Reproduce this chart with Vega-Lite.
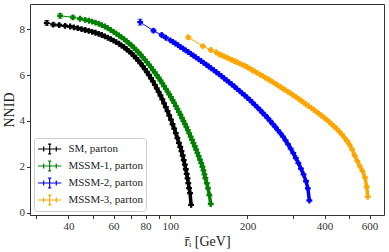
{
"$schema": "https://vega.github.io/schema/vega-lite/v6.json",
"width": 354, "height": 211,
"autosize": {"type": "none"},
"padding": {"left": 30, "top": 4, "right": 5, "bottom": 37},
"config": {"font": "Liberation Serif", "view": {"stroke": "#333", "strokeWidth": 1}},
"data": {"values": [
{"s":"SM, parton","x":32.9,"y":8.27,"e":0.10},{"s":"SM, parton","x":34.9,"y":8.19,"e":0.07},{"s":"SM, parton","x":36.8,"y":8.17,"e":0.06},{"s":"SM, parton","x":38.8,"y":8.14,"e":0.05},{"s":"SM, parton","x":40.6,"y":8.11,"e":0.04},
{"s":"SM, parton","x":42.0,"y":8.07},{"s":"SM, parton","x":43.5,"y":8.04},{"s":"SM, parton","x":45.0,"y":8.00},{"s":"SM, parton","x":46.5,"y":7.96},{"s":"SM, parton","x":48.0,"y":7.92},{"s":"SM, parton","x":49.5,"y":7.88},{"s":"SM, parton","x":51.0,"y":7.84},{"s":"SM, parton","x":52.5,"y":7.79},{"s":"SM, parton","x":54.0,"y":7.74},{"s":"SM, parton","x":55.5,"y":7.68},{"s":"SM, parton","x":57.0,"y":7.62},{"s":"SM, parton","x":58.5,"y":7.56},{"s":"SM, parton","x":60.0,"y":7.50},{"s":"SM, parton","x":61.5,"y":7.43},{"s":"SM, parton","x":63.0,"y":7.36},{"s":"SM, parton","x":64.5,"y":7.28},{"s":"SM, parton","x":66.0,"y":7.21},{"s":"SM, parton","x":67.5,"y":7.12},{"s":"SM, parton","x":69.0,"y":7.03},{"s":"SM, parton","x":70.5,"y":6.94},{"s":"SM, parton","x":72.0,"y":6.84},{"s":"SM, parton","x":73.5,"y":6.73},{"s":"SM, parton","x":75.0,"y":6.62},{"s":"SM, parton","x":76.5,"y":6.51},{"s":"SM, parton","x":78.0,"y":6.39},{"s":"SM, parton","x":79.5,"y":6.26},{"s":"SM, parton","x":81.0,"y":6.13},{"s":"SM, parton","x":82.5,"y":6.00},{"s":"SM, parton","x":84.0,"y":5.86},{"s":"SM, parton","x":85.5,"y":5.72},{"s":"SM, parton","x":87.0,"y":5.57},{"s":"SM, parton","x":88.5,"y":5.42},{"s":"SM, parton","x":90.0,"y":5.27},{"s":"SM, parton","x":91.5,"y":5.11},{"s":"SM, parton","x":93.0,"y":4.94},{"s":"SM, parton","x":94.5,"y":4.77},{"s":"SM, parton","x":96.0,"y":4.60},{"s":"SM, parton","x":97.5,"y":4.43},{"s":"SM, parton","x":99.0,"y":4.24},{"s":"SM, parton","x":100.5,"y":4.06},{"s":"SM, parton","x":102.0,"y":3.86},{"s":"SM, parton","x":103.5,"y":3.67},{"s":"SM, parton","x":105.0,"y":3.47},{"s":"SM, parton","x":106.5,"y":3.26},{"s":"SM, parton","x":108.0,"y":3.05},{"s":"SM, parton","x":109.3,"y":2.87},{"s":"SM, parton","x":110.5,"y":2.69},{"s":"SM, parton","x":111.7,"y":2.50},{"s":"SM, parton","x":112.8,"y":2.30},{"s":"SM, parton","x":113.9,"y":2.10},{"s":"SM, parton","x":114.9,"y":1.90},{"s":"SM, parton","x":115.8,"y":1.70},{"s":"SM, parton","x":116.7,"y":1.50},{"s":"SM, parton","x":117.5,"y":1.30},{"s":"SM, parton","x":118.3,"y":1.08},{"s":"SM, parton","x":119.4,"y":0.86},{"s":"SM, parton","x":120.5,"y":0.35},
{"s":"MSSM-1, parton","x":37.1,"y":8.58,"e":0.10},{"s":"MSSM-1, parton","x":41.6,"y":8.51,"e":0.07},{"s":"MSSM-1, parton","x":44.4,"y":8.45,"e":0.06},{"s":"MSSM-1, parton","x":46.5,"y":8.40,"e":0.05},{"s":"MSSM-1, parton","x":48.1,"y":8.36,"e":0.04},
{"s":"MSSM-1, parton","x":49.5,"y":8.32},{"s":"MSSM-1, parton","x":51.0,"y":8.28},{"s":"MSSM-1, parton","x":52.5,"y":8.23},{"s":"MSSM-1, parton","x":54.0,"y":8.17},{"s":"MSSM-1, parton","x":55.5,"y":8.11},{"s":"MSSM-1, parton","x":57.0,"y":8.04},{"s":"MSSM-1, parton","x":58.5,"y":7.96},{"s":"MSSM-1, parton","x":60.0,"y":7.88},{"s":"MSSM-1, parton","x":61.5,"y":7.80},{"s":"MSSM-1, parton","x":63.0,"y":7.72},{"s":"MSSM-1, parton","x":64.5,"y":7.64},{"s":"MSSM-1, parton","x":66.0,"y":7.56},{"s":"MSSM-1, parton","x":67.5,"y":7.47},{"s":"MSSM-1, parton","x":69.0,"y":7.38},{"s":"MSSM-1, parton","x":70.5,"y":7.29},{"s":"MSSM-1, parton","x":72.0,"y":7.19},{"s":"MSSM-1, parton","x":73.5,"y":7.09},{"s":"MSSM-1, parton","x":75.0,"y":6.99},{"s":"MSSM-1, parton","x":76.5,"y":6.89},{"s":"MSSM-1, parton","x":78.0,"y":6.78},{"s":"MSSM-1, parton","x":79.5,"y":6.67},{"s":"MSSM-1, parton","x":81.0,"y":6.56},{"s":"MSSM-1, parton","x":82.5,"y":6.45},{"s":"MSSM-1, parton","x":84.0,"y":6.34},{"s":"MSSM-1, parton","x":85.5,"y":6.22},{"s":"MSSM-1, parton","x":87.0,"y":6.11},{"s":"MSSM-1, parton","x":88.5,"y":5.99},{"s":"MSSM-1, parton","x":90.0,"y":5.88},{"s":"MSSM-1, parton","x":91.5,"y":5.76},{"s":"MSSM-1, parton","x":93.0,"y":5.64},{"s":"MSSM-1, parton","x":94.5,"y":5.52},{"s":"MSSM-1, parton","x":96.0,"y":5.40},{"s":"MSSM-1, parton","x":97.5,"y":5.28},{"s":"MSSM-1, parton","x":99.0,"y":5.16},{"s":"MSSM-1, parton","x":100.5,"y":5.04},{"s":"MSSM-1, parton","x":102.0,"y":4.91},{"s":"MSSM-1, parton","x":103.5,"y":4.79},{"s":"MSSM-1, parton","x":105.0,"y":4.66},{"s":"MSSM-1, parton","x":106.5,"y":4.53},{"s":"MSSM-1, parton","x":108.0,"y":4.40},{"s":"MSSM-1, parton","x":109.5,"y":4.27},{"s":"MSSM-1, parton","x":111.0,"y":4.13},{"s":"MSSM-1, parton","x":112.5,"y":4.00},{"s":"MSSM-1, parton","x":114.0,"y":3.87},{"s":"MSSM-1, parton","x":115.5,"y":3.73},{"s":"MSSM-1, parton","x":117.0,"y":3.60},{"s":"MSSM-1, parton","x":118.5,"y":3.46},{"s":"MSSM-1, parton","x":120.0,"y":3.32},{"s":"MSSM-1, parton","x":121.5,"y":3.18},{"s":"MSSM-1, parton","x":123.0,"y":3.04},{"s":"MSSM-1, parton","x":124.5,"y":2.90},{"s":"MSSM-1, parton","x":126.0,"y":2.76},{"s":"MSSM-1, parton","x":127.5,"y":2.61},{"s":"MSSM-1, parton","x":129.0,"y":2.47},{"s":"MSSM-1, parton","x":130.5,"y":2.32},{"s":"MSSM-1, parton","x":132.0,"y":2.17},{"s":"MSSM-1, parton","x":133.4,"y":2.01},{"s":"MSSM-1, parton","x":134.7,"y":1.85},{"s":"MSSM-1, parton","x":135.9,"y":1.68},{"s":"MSSM-1, parton","x":137.0,"y":1.51},{"s":"MSSM-1, parton","x":138.8,"y":1.29},{"s":"MSSM-1, parton","x":140.3,"y":1.07},{"s":"MSSM-1, parton","x":142.0,"y":0.78},{"s":"MSSM-1, parton","x":143.8,"y":0.39},
{"s":"MSSM-2, parton","x":76.2,"y":8.30,"e":0.13},{"s":"MSSM-2, parton","x":85.9,"y":7.93,"e":0.07},{"s":"MSSM-2, parton","x":92.5,"y":7.74,"e":0.05},{"s":"MSSM-2, parton","x":96.0,"y":7.62,"e":0.04},
{"s":"MSSM-2, parton","x":100.0,"y":7.51},{"s":"MSSM-2, parton","x":102.3,"y":7.44},{"s":"MSSM-2, parton","x":104.7,"y":7.37},{"s":"MSSM-2, parton","x":107.2,"y":7.30},{"s":"MSSM-2, parton","x":109.6,"y":7.22},{"s":"MSSM-2, parton","x":112.2,"y":7.15},{"s":"MSSM-2, parton","x":114.8,"y":7.07},{"s":"MSSM-2, parton","x":117.5,"y":7.00},{"s":"MSSM-2, parton","x":120.2,"y":6.92},{"s":"MSSM-2, parton","x":123.0,"y":6.85},{"s":"MSSM-2, parton","x":125.9,"y":6.77},{"s":"MSSM-2, parton","x":128.8,"y":6.69},{"s":"MSSM-2, parton","x":131.8,"y":6.61},{"s":"MSSM-2, parton","x":134.9,"y":6.53},{"s":"MSSM-2, parton","x":138.0,"y":6.45},{"s":"MSSM-2, parton","x":141.3,"y":6.37},{"s":"MSSM-2, parton","x":144.5,"y":6.29},{"s":"MSSM-2, parton","x":147.9,"y":6.21},{"s":"MSSM-2, parton","x":151.4,"y":6.12},{"s":"MSSM-2, parton","x":154.9,"y":6.04},{"s":"MSSM-2, parton","x":158.5,"y":5.95},{"s":"MSSM-2, parton","x":162.2,"y":5.86},{"s":"MSSM-2, parton","x":166.0,"y":5.77},{"s":"MSSM-2, parton","x":169.8,"y":5.68},{"s":"MSSM-2, parton","x":173.8,"y":5.59},{"s":"MSSM-2, parton","x":177.8,"y":5.50},{"s":"MSSM-2, parton","x":182.0,"y":5.40},{"s":"MSSM-2, parton","x":186.2,"y":5.31},{"s":"MSSM-2, parton","x":190.5,"y":5.21},{"s":"MSSM-2, parton","x":195.0,"y":5.12},{"s":"MSSM-2, parton","x":199.5,"y":5.02},{"s":"MSSM-2, parton","x":204.2,"y":4.92},{"s":"MSSM-2, parton","x":208.9,"y":4.81},{"s":"MSSM-2, parton","x":213.8,"y":4.70},{"s":"MSSM-2, parton","x":218.8,"y":4.59},{"s":"MSSM-2, parton","x":223.9,"y":4.48},{"s":"MSSM-2, parton","x":229.1,"y":4.36},{"s":"MSSM-2, parton","x":234.4,"y":4.25},{"s":"MSSM-2, parton","x":239.9,"y":4.13},{"s":"MSSM-2, parton","x":245.5,"y":4.00},{"s":"MSSM-2, parton","x":251.2,"y":3.87},{"s":"MSSM-2, parton","x":257.0,"y":3.74},{"s":"MSSM-2, parton","x":263.0,"y":3.60},{"s":"MSSM-2, parton","x":269.2,"y":3.46},{"s":"MSSM-2, parton","x":275.4,"y":3.32},{"s":"MSSM-2, parton","x":281.8,"y":3.16},{"s":"MSSM-2, parton","x":288.4,"y":2.98},{"s":"MSSM-2, parton","x":295.1,"y":2.80},{"s":"MSSM-2, parton","x":302.0,"y":2.60},{"s":"MSSM-2, parton","x":309.0,"y":2.39},{"s":"MSSM-2, parton","x":316.2,"y":2.17},{"s":"MSSM-2, parton","x":323.6,"y":1.93},{"s":"MSSM-2, parton","x":331.1,"y":1.68},{"s":"MSSM-2, parton","x":338.8,"y":1.38},{"s":"MSSM-2, parton","x":344.4,"y":1.07},{"s":"MSSM-2, parton","x":349.1,"y":0.54},
{"s":"MSSM-3, parton","x":117.5,"y":7.64,"e":0.08},{"s":"MSSM-3, parton","x":133.9,"y":7.26,"e":0.05},{"s":"MSSM-3, parton","x":143.8,"y":7.09,"e":0.04},{"s":"MSSM-3, parton","x":151.0,"y":6.99,"e":0.03},{"s":"MSSM-3, parton","x":155.3,"y":6.90},
{"s":"MSSM-3, parton","x":158.5,"y":6.86},{"s":"MSSM-3, parton","x":162.2,"y":6.81},{"s":"MSSM-3, parton","x":166.0,"y":6.76},{"s":"MSSM-3, parton","x":169.8,"y":6.71},{"s":"MSSM-3, parton","x":173.8,"y":6.66},{"s":"MSSM-3, parton","x":177.8,"y":6.61},{"s":"MSSM-3, parton","x":182.0,"y":6.56},{"s":"MSSM-3, parton","x":186.2,"y":6.51},{"s":"MSSM-3, parton","x":190.5,"y":6.45},{"s":"MSSM-3, parton","x":195.0,"y":6.40},{"s":"MSSM-3, parton","x":199.5,"y":6.35},{"s":"MSSM-3, parton","x":204.2,"y":6.28},{"s":"MSSM-3, parton","x":208.9,"y":6.22},{"s":"MSSM-3, parton","x":213.8,"y":6.15},{"s":"MSSM-3, parton","x":218.8,"y":6.09},{"s":"MSSM-3, parton","x":223.9,"y":6.02},{"s":"MSSM-3, parton","x":229.1,"y":5.96},{"s":"MSSM-3, parton","x":234.4,"y":5.89},{"s":"MSSM-3, parton","x":239.9,"y":5.83},{"s":"MSSM-3, parton","x":245.5,"y":5.76},{"s":"MSSM-3, parton","x":251.2,"y":5.69},{"s":"MSSM-3, parton","x":257.0,"y":5.62},{"s":"MSSM-3, parton","x":263.0,"y":5.55},{"s":"MSSM-3, parton","x":269.2,"y":5.48},{"s":"MSSM-3, parton","x":275.4,"y":5.41},{"s":"MSSM-3, parton","x":281.8,"y":5.34},{"s":"MSSM-3, parton","x":288.4,"y":5.27},{"s":"MSSM-3, parton","x":295.1,"y":5.20},{"s":"MSSM-3, parton","x":302.0,"y":5.12},{"s":"MSSM-3, parton","x":309.0,"y":5.05},{"s":"MSSM-3, parton","x":316.2,"y":4.97},{"s":"MSSM-3, parton","x":323.6,"y":4.89},{"s":"MSSM-3, parton","x":331.1,"y":4.81},{"s":"MSSM-3, parton","x":338.8,"y":4.73},{"s":"MSSM-3, parton","x":346.7,"y":4.65},{"s":"MSSM-3, parton","x":354.8,"y":4.57},{"s":"MSSM-3, parton","x":363.1,"y":4.49},{"s":"MSSM-3, parton","x":371.5,"y":4.41},{"s":"MSSM-3, parton","x":380.2,"y":4.32},{"s":"MSSM-3, parton","x":389.0,"y":4.24},{"s":"MSSM-3, parton","x":398.1,"y":4.15},{"s":"MSSM-3, parton","x":407.4,"y":4.06},{"s":"MSSM-3, parton","x":416.9,"y":3.96},{"s":"MSSM-3, parton","x":426.6,"y":3.86},{"s":"MSSM-3, parton","x":436.5,"y":3.76},{"s":"MSSM-3, parton","x":446.7,"y":3.65},{"s":"MSSM-3, parton","x":457.1,"y":3.54},{"s":"MSSM-3, parton","x":467.7,"y":3.42},{"s":"MSSM-3, parton","x":478.6,"y":3.28},{"s":"MSSM-3, parton","x":489.8,"y":3.13},{"s":"MSSM-3, parton","x":501.2,"y":2.97},{"s":"MSSM-3, parton","x":512.9,"y":2.76},{"s":"MSSM-3, parton","x":524.8,"y":2.50},{"s":"MSSM-3, parton","x":537.0,"y":2.26},{"s":"MSSM-3, parton","x":549.5,"y":2.04},{"s":"MSSM-3, parton","x":562.3,"y":1.83},{"s":"MSSM-3, parton","x":575.4,"y":1.55},{"s":"MSSM-3, parton","x":584.8,"y":1.14},{"s":"MSSM-3, parton","x":590.2,"y":0.70}
]},
"encoding": {
  "x": {"field": "x", "type": "quantitative",
    "scale": {"type": "log", "domain": [28.3, 683], "nice": false},
    "axis": {"values": [30,40,50,60,70,80,90,100,200,300,400,500,600], "format": "d",
      "labelExpr": "indexof([40,60,80,100,200,400,600], datum.value) >= 0 ? datum.label : ''",
      "labelOverlap": false, "labelFlush": false, "grid": false, "domain": false,
      "tickSize": 3.5, "tickColor": "#333", "labelFontSize": 11, "labelColor": "#333", "labelPadding": 2,
      "title": "r\u0304\u1d62 [GeV]", "titleFontSize": 14, "titleFontWeight": "normal", "titleColor": "#222", "titlePadding": 3}},
  "y": {"field": "y", "type": "quantitative",
    "scale": {"domain": [-0.09, 9.09], "nice": false, "zero": false},
    "axis": {"values": [0,2,4,6,8], "grid": false, "domain": false,
      "tickSize": 3.5, "tickColor": "#333", "labelFontSize": 11, "labelColor": "#333", "labelPadding": 2,
      "title": "NNID", "titleFontSize": 14, "titleFontWeight": "normal", "titleColor": "#222", "titlePadding": 3}},
  "color": {"field": "s", "type": "nominal",
    "scale": {"domain": ["SM, parton","MSSM-1, parton","MSSM-2, parton","MSSM-3, parton"], "range": ["#000000","#008000","#0000ff","#ffa500"]},
    "legend": {"orient": "bottom-left", "offset": 4, "title": null, "labelFontSize": 11, "labelFont": "Liberation Serif", "labelColor": "#222",
      "symbolType": "M-1,0H2.33M-0.19,-0.36V0.36M1.61,-0.36V0.36M0.67,-0.7V0.7M0.45,-0.7H0.89M0.45,0.7H0.89",
      "symbolSize": 196, "symbolStrokeWidth": 1.2, "strokeColor": "#ccc", "cornerRadius": 3, "padding": 3, "fillColor": "white", "rowPadding": 1, "labelOffset": 15.4}}
},
"layer": [
  {"mark": {"type": "line", "strokeWidth": 1}},
  {"transform": [{"filter": "!isValid(datum.e)"}], "mark": {"type": "line", "strokeWidth": 3.5}},
  {"mark": {"type": "point", "shape": "cross", "filled": true, "size": 34, "opacity": 1}},
  {"transform": [{"filter": "isValid(datum.e)"}],
   "mark": {"type": "errorbar", "ticks": true, "thickness": 1},
   "encoding": {"yError": {"field": "e"}}}
]
}
